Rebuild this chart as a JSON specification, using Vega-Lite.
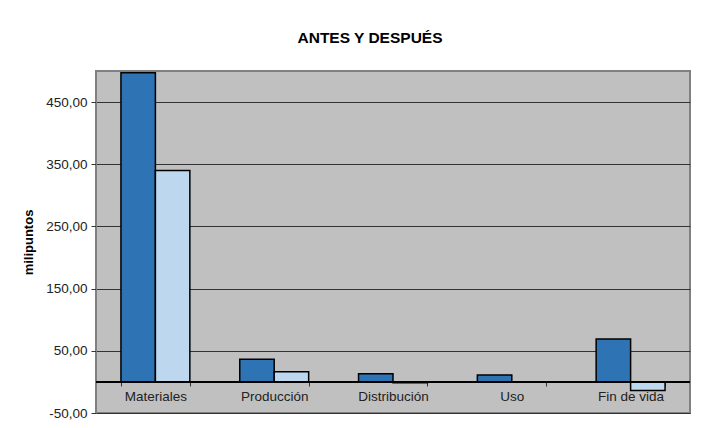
{
  "$schema": "https://vega.github.io/schema/vega-lite/v6.json",
  "autosize": {"type": "none"},
  "padding": {"left": 96, "top": 71, "right": 15, "bottom": 15},
  "width": 594,
  "height": 342,
  "background": "white",
  "title": {
    "text": "ANTES Y DESPUÉS",
    "font": "Liberation Sans",
    "fontSize": 15.5,
    "fontWeight": "bold",
    "color": "#000000",
    "offset": 25,
    "dx": -23
  },
  "data": {
    "values": [
      {"categoria": "Materiales", "serie": "Antes", "valor": 497},
      {"categoria": "Materiales", "serie": "Después", "valor": 340},
      {"categoria": "Producción", "serie": "Antes", "valor": 36.5},
      {"categoria": "Producción", "serie": "Después", "valor": 16.5},
      {"categoria": "Distribución", "serie": "Antes", "valor": 13},
      {"categoria": "Distribución", "serie": "Después", "valor": -1.5},
      {"categoria": "Uso", "serie": "Antes", "valor": 11},
      {"categoria": "Uso", "serie": "Después", "valor": 0},
      {"categoria": "Fin de vida", "serie": "Antes", "valor": 69},
      {"categoria": "Fin de vida", "serie": "Después", "valor": -14}
    ]
  },
  "layer": [
    {
      "mark": {"type": "bar", "stroke": "#000000", "strokeWidth": 1.5},
      "encoding": {
        "x": {
          "field": "categoria",
          "type": "nominal",
          "sort": ["Materiales", "Producción", "Distribución", "Uso", "Fin de vida"],
          "scale": {"paddingInner": 0.42, "paddingOuter": 0.21},
          "axis": {
            "title": null,
            "orient": "bottom",
            "offset": -31,
            "labelAngle": 0,
            "tickBand": "extent",
            "tickSize": 4,
            "tickColor": "#333333",
            "domain": false,
            "labelPadding": 3,
            "labelFont": "Liberation Sans",
            "labelFontSize": 13.5,
            "labelColor": "#222222"
          }
        },
        "xOffset": {
          "field": "serie",
          "type": "nominal",
          "sort": ["Antes", "Después"],
          "scale": {"paddingInner": 0, "paddingOuter": 0}
        },
        "y": {
          "field": "valor",
          "type": "quantitative",
          "scale": {"domain": [-50, 500], "nice": false, "zero": false},
          "axis": {
            "title": "milipuntos",
            "titleFont": "Liberation Sans",
            "titleFontSize": 13,
            "titleFontWeight": "bold",
            "titleColor": "#000000",
            "titlePadding": 10,
            "values": [-50, 50, 150, 250, 350, 450],
            "labelExpr": "replace(replace(format(datum.value, '.2f'), '.', ','), '\u2212', '-')",
            "labelFont": "Liberation Sans",
            "labelFontSize": 13.5,
            "labelColor": "#222222",
            "labelPadding": 4,
            "tickSize": 5,
            "tickColor": "#333333",
            "domainColor": "#808080",
            "domainWidth": 1,
            "grid": true,
            "gridColor": "#333333",
            "gridWidth": 1
          }
        },
        "color": {
          "field": "serie",
          "type": "nominal",
          "scale": {"domain": ["Antes", "Después"], "range": ["#2E74B5", "#BDD7EE"]},
          "legend": null
        }
      }
    },
    {
      "mark": {"type": "rule", "color": "#000000", "strokeWidth": 1.2},
      "encoding": {"y": {"datum": 0, "type": "quantitative"}}
    }
  ],
  "config": {
    "view": {"fill": "#C0C0C0", "stroke": "#808080", "strokeWidth": 2},
    "font": "Liberation Sans"
  }
}
